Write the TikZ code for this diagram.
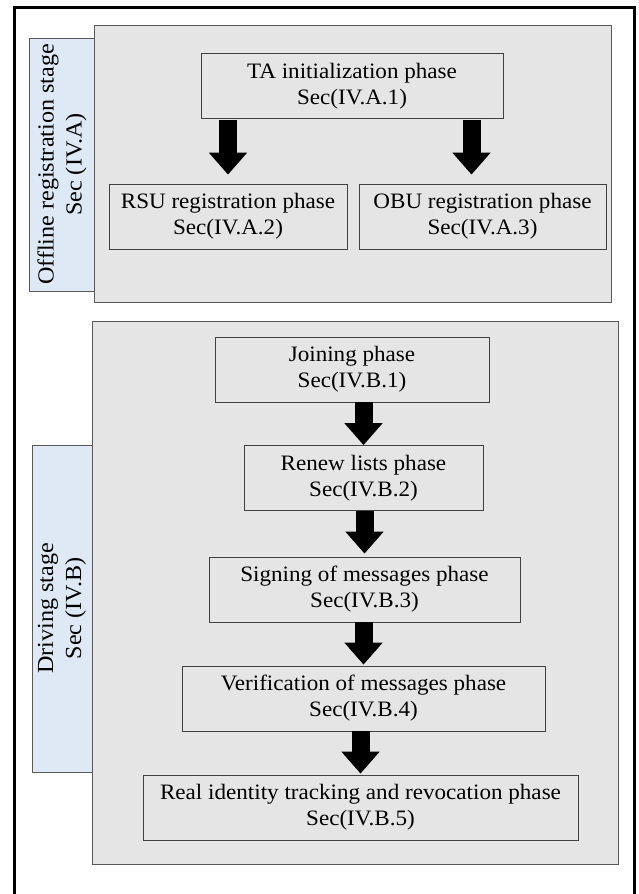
\documentclass[tikz,border=0pt]{standalone}
\usepackage{fontspec}
\setmainfont{Liberation Serif}[FakeStretch=1.05]
\usetikzlibrary{arrows.meta}
\definecolor{stagegray}{HTML}{E5E5E5}
\definecolor{stageblue}{HTML}{DEE9F5}
\definecolor{boxline}{HTML}{404040}
\begin{document}
\begin{tikzpicture}[x=1pt,y=-1pt]
        \tikzstyle{stage}=[draw=gray!70!black, fill=stagegray, line width=1pt]
        \tikzstyle{label}=[draw=gray!70!black, fill=stageblue, line width=0.8pt]
        \tikzstyle{phase}=[rectangle, draw=boxline, fill=stagegray, line width=0.8pt, inner sep=0pt, align=center, minimum height=65pt, font=\fontsize{22}{26}\selectfont]
        \tikzstyle{stagename}=[rotate=90, align=center, inner sep=0pt, font=\fontsize{23}{28}\selectfont]
        \tikzstyle{flow}=[line width=18pt, -{Triangle[width=37pt,length=22pt]}]
        \useasboundingbox (0,0) rectangle (639,894);
        \fill[white] (0,0) rectangle (639,894);
        \draw[line width=3pt] (14,920) -- (14,7) -- (634,7) -- (634,920);

        % offline registration stage
        \draw[label] (29,38) rectangle (94,291);
        \draw[stage] (94,25) rectangle (611,302);
        \node [stagename] (offline) at (62,164.5) {Offline registration stage\\Sec (IV.A)};

        \node [phase, minimum width=302pt] (ta) at (352,86) {TA initialization phase\\Sec(IV.A.1)};
        \node [phase, minimum width=238pt] (rsu) at (228,216.5) {RSU registration phase\\Sec(IV.A.2)};
        \node [phase, minimum width=247pt] (obu) at (482.5,216.5) {OBU registration phase\\Sec(IV.A.3)};

        \draw[flow, shorten <=1pt, shorten >=9pt] (ta.south -| rsu.north) -- (rsu.north);
        \draw[flow, shorten <=1pt, shorten >=9pt] ([xshift=-11pt]obu.north |- ta.south) -- ([xshift=-11pt]obu.north);

        % driving stage
        \draw[label] (32,445) rectangle (92,772);
        \draw[stage] (92,321) rectangle (618,864);
        \node [stagename] (driving) at (62,608.5) {Driving stage\\Sec (IV.B)};

        \node [phase, minimum width=274pt] (join) at (352,369.5) {Joining phase\\Sec(IV.B.1)};
        \node [phase, minimum width=239pt] (renew) at (363.5,478) {Renew lists phase\\Sec(IV.B.2)};
        \node [phase, minimum width=311pt] (sign) at (364.5,589.5) {Signing of messages phase\\Sec(IV.B.3)};
        \node [phase, minimum width=363pt] (verify) at (363.5,698.5) {Verification of messages phase\\Sec(IV.B.4)};
        \node [phase, minimum width=435pt] (track) at (360.5,807.5) {Real identity tracking and revocation phase\\Sec(IV.B.5)};

        \draw[flow] (join.south -| renew.north) -- (renew.north);
        \draw[flow, shorten >=3pt] (renew.south -| sign.north) -- (sign.north);
        \draw[flow, shorten >=1pt] (sign.south -| verify.north) -- (verify.north);
        \draw[flow, shorten >=1pt] (verify.south -| track.north) -- (track.north);
\end{tikzpicture}
\end{document}
